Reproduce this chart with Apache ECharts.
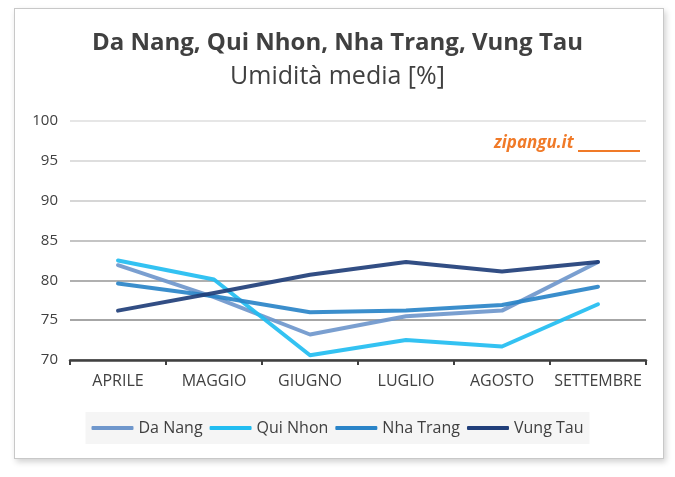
<!DOCTYPE html>
<html>
<head>
<meta charset="utf-8">
<script src="https://cdn.jsdelivr.net/npm/echarts@6/dist/echarts.min.js"></script>
<style>
  html, body { margin: 0; padding: 0; background: #fff; }
  #frame {
    position: absolute; left: 14px; top: 8px; width: 648px; height: 449px;
    border: 1px solid #c8c8c8; box-shadow: 2px 3px 6px rgba(0,0,0,0.18); background: #fff;
  }
  #chart { position: absolute; left: 0; top: 0; width: 675px; height: 477px; }
</style>
</head>
<body>
<div id="frame"></div>
<div id="chart"></div>
<script>
// mesi
const mesi = ['APRILE', 'MAGGIO', 'GIUGNO', 'LUGLIO', 'AGOSTO', 'SETTEMBRE'];
// umidità media [%]
const daNang = [81.9, 77.9, 73.2, 75.5, 76.2, 82.3];
const quiNhon = [82.5, 80.1, 70.6, 72.5, 71.7, 77.0];
const nhaTrang = [79.6, 78.0, 76.0, 76.2, 76.9, 79.2];
const vungTau = [76.2, 78.4, 80.7, 82.3, 81.1, 82.3];

const chart = echarts.init(document.getElementById('chart'));
const font = '"Open Sans", "Noto Sans", sans-serif';

function serie(name, data, color) {
  return {
    name: name, type: 'line', data: data,
    symbol: 'none', smooth: false,
    lineStyle: { color: color, width: 4, cap: 'round', join: 'round', opacity: 0.92 },
    itemStyle: { color: color }
  };
}

chart.setOption({
  animation: false,
  textStyle: { fontFamily: font },
  title: {
    text: 'Da Nang, Qui Nhon, Nha Trang, Vung Tau',
    subtext: 'Umidità media [%]',
    left: 'center', top: 26, itemGap: 9,
    textStyle: { fontSize: 24, fontWeight: 'bold', color: '#404040', fontFamily: font },
    subtextStyle: { fontSize: 25, color: '#404040', fontFamily: font }
  },
  legend: {
    bottom: 33, left: 'center',
    backgroundColor: '#f5f5f5', padding: [8, 6],
    itemWidth: 42, itemHeight: 4, itemGap: 7,
    icon: 'roundRect',
    textStyle: { fontSize: 16, color: '#404040' },
    data: ['Da Nang', 'Qui Nhon', 'Nha Trang', 'Vung Tau']
  },
  grid: { left: 70, right: 29, top: 121, bottom: 117 },
  xAxis: {
    type: 'category', data: mesi, boundaryGap: true,
    axisLine: { lineStyle: { color: '#404040', width: 2.5 } },
    axisTick: { show: true, length: 5, lineStyle: { color: '#404040', width: 2 } },
    axisLabel: { fontSize: 16, color: '#404040', margin: 13, interval: 0 }
  },
  yAxis: {
    type: 'value', min: 70, max: 100, interval: 5,
    axisLine: { show: false }, axisTick: { show: false },
    axisLabel: { fontSize: 15, color: '#404040', margin: 12 },
    splitLine: { lineStyle: {
      color: ['#a0a0a0', '#a6a6a6', '#b0b0b0', '#c4c4c4', '#d6d6d6', '#dedede', '#e6e6e6'],
      width: 2
    } }
  },
  graphic: [
    { type: 'text', left: 494, top: 135,
      style: { text: 'zipangu.it', fill: '#f07a28', font: 'italic bold 17px ' + font } },
    { type: 'line', shape: { x1: 578, y1: 151, x2: 640, y2: 151 },
      style: { stroke: '#f07a28', lineWidth: 2 } }
  ],
  series: [
    serie('Da Nang', daNang, '#6f97cc'),
    serie('Qui Nhon', quiNhon, '#22bdf1'),
    serie('Nha Trang', nhaTrang, '#2a84c8'),
    serie('Vung Tau', vungTau, '#213f7a')
  ]
});
</script>
</body>
</html>
